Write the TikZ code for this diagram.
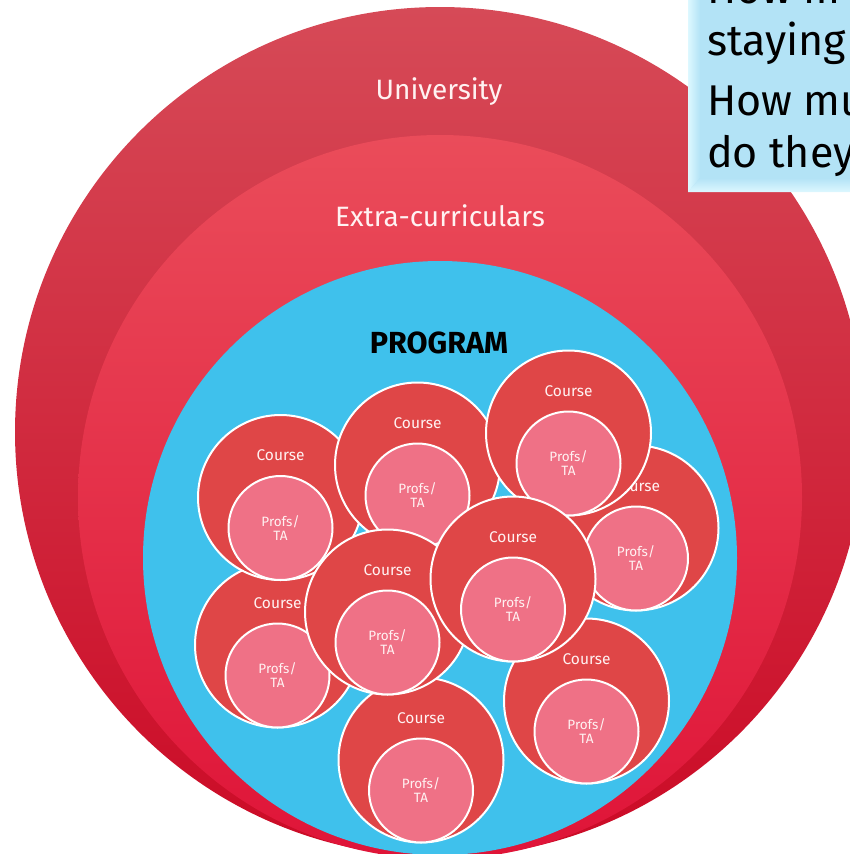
\documentclass[tikz,border=0pt]{standalone}
\usepackage{fontspec}
\setmainfont{Fira Sans}
\usetikzlibrary{shapes.geometric}
\definecolor{uniTop}{HTML}{D64A57}
\definecolor{uniMid}{HTML}{D42A40}
\definecolor{uniBot}{HTML}{CB0A26}
\definecolor{exTop}{HTML}{EA4C5A}
\definecolor{exMid}{HTML}{EB263F}
\definecolor{exBot}{HTML}{DF1438}
\definecolor{progBlue}{HTML}{3FC1EC}
\definecolor{courseRed}{HTML}{DF4647}
\definecolor{profPink}{HTML}{EF7186}
\definecolor{lblWhite}{HTML}{FFF2F2}
\definecolor{boxBlue}{HTML}{B3E3F6}
\definecolor{boxLight}{HTML}{DDF8FF}
\tikzset{
  coursebox/.style={circle, fill=courseRed, draw=white, line width=2pt, minimum size=165pt, inner sep=0pt},
  profbox/.style={circle, fill=profPink, draw=white, line width=2pt, minimum size=104pt, inner sep=0pt,
    text=lblWhite, font=\fontsize{13.5}{14}\selectfont, align=center},
  courselbl/.style={text=lblWhite, font=\fontsize{15.5}{17}\selectfont, inner sep=0pt},
  biglbl/.style={text=lblWhite, font=\fontsize{28}{30}\selectfont, inner sep=0pt},
  boxtxt/.style={text=black, font=\fontsize{43}{46}\selectfont, inner sep=0pt, anchor=base west}
}
\newcommand{\coursecircle}[3]{%
  \node[coursebox] (c#1) at (#2,#3) {};
  \node[courselbl] (cl#1) at (#2,#3-42) {Course};
  \node[profbox] (p#1) at (#2,#3+30.5) {Profs/\\TA};
}
\begin{document}
\begin{tikzpicture}[x=1pt,y=-1pt]
\useasboundingbox (0,0) rectangle (850,854);
\begin{scope}
\clip (0,0) rectangle (850,854);
% University
\shade[top color=uniTop, middle color=uniMid, bottom color=uniBot] (440,432) circle (425);
% Extra-curriculars
\shade[top color=exTop, middle color=exMid, bottom color=exBot] (440,497) circle (362);
% Program
\fill[progBlue] (440,558) circle (297);
\node[biglbl] (uni) at (439,92) {University};
\node[biglbl] (extra) at (440,216) {Extra-curriculars};
\node[text=black, inner sep=0pt, font=\bfseries\fontsize{30.5}{32}\selectfont] (prog) at (439,343) {PROGRAM};
% courses
\coursecircle{4}{636}{528}
\coursecircle{5}{277.5}{645}
\coursecircle{1}{280.5}{497.5}
\coursecircle{2}{417.5}{465}
\coursecircle{3}{568.5}{433}
\coursecircle{9}{421}{760}
\coursecircle{8}{586.5}{701}
\coursecircle{6}{387.5}{612}
\coursecircle{7}{513}{579}
% text box
\fill[boxBlue] (688,-10) rectangle (860,192);
\shade[left color=boxLight, right color=boxBlue] (688,-10) -- (700,-10) -- (700,178) -- (688,192) -- cycle;
\shade[top color=boxBlue, bottom color=boxLight] (688,192) -- (700,178) -- (860,178) -- (860,192) -- cycle;
\begin{scope}
\clip (688,-10) rectangle (850,192);
\node[boxtxt] (t1) at (707,3) {How m};
\node[boxtxt] (t2) at (707,55) {staying};
\node[boxtxt] (t3) at (707,115) {How mu};
\node[boxtxt] (t4) at (707,167) {do they};
\end{scope}
\end{scope}
\end{tikzpicture}
\end{document}
